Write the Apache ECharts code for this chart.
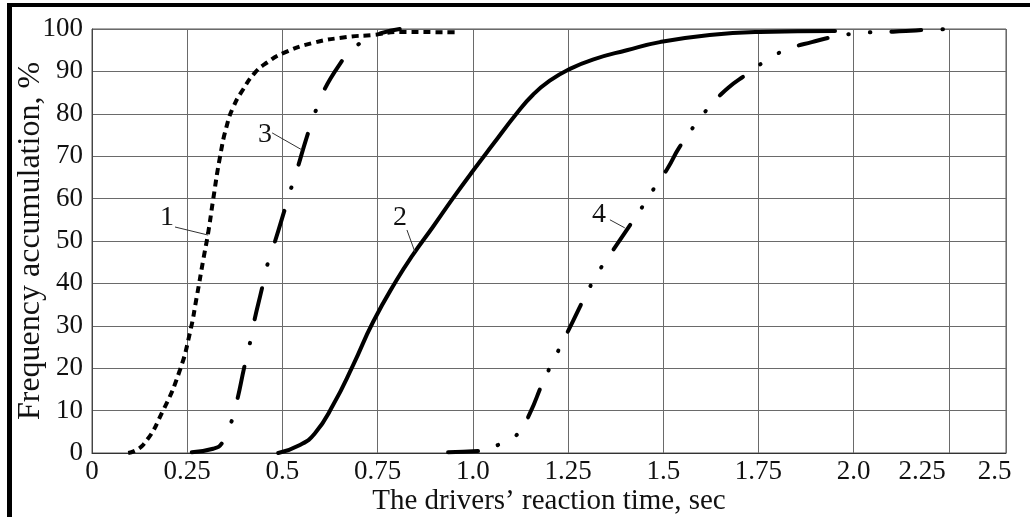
<!DOCTYPE html>
<html>
<head>
<meta charset="utf-8">
<script src="https://cdn.jsdelivr.net/npm/echarts@6/dist/echarts.min.js"></script>
<style>
  html, body { margin: 0; padding: 0; background: #fff; }
  #main { width: 1030px; height: 517px; }
</style>
</head>
<body>
<div id="main"></div>
<script>
// curves: [time, cumulative %]
var curve1 = [[0.095, 0], [0.134, 1.9], [0.187, 10.1], [0.231, 19.6], [0.257, 28.3], [0.275, 36.8],
  [0.292, 45.5], [0.305, 51.9], [0.318, 59.7], [0.336, 69.8], [0.353, 76.9], [0.371, 81.6],
  [0.397, 85.8], [0.428, 89.7], [0.46, 92.1], [0.502, 94.3], [0.58, 96.7], [0.669, 98.1],
  [0.738, 98.6], [0.808, 99.3], [0.961, 99.2]];
var curve2 = [[0.489, 0], [0.546, 1.9], [0.585, 4.6], [0.633, 11.3], [0.686, 20.8],
  [0.738, 30.9], [0.8, 40.8], [0.843, 46.8], [0.895, 53.3], [0.948, 60.1], [1.0, 66.5],
  [1.053, 72.8], [1.116, 80.2], [1.158, 84.5], [1.202, 87.8], [1.255, 90.6], [1.315, 92.8],
  [1.404, 95], [1.491, 96.9], [1.622, 98.6], [1.754, 99.3], [1.951, 99.5]];
var curve3 = [[0.262, 0.2], [0.318, 1.0], [0.341, 2.3], [0.365, 7.1], [0.38, 12], [0.4, 20.3],
  [0.413, 25.2], [0.425, 30.7], [0.446, 38.7], [0.459, 43.9], [0.476, 48.6], [0.504, 56.8],
  [0.52, 61.6], [0.538, 66.7], [0.564, 74.5], [0.583, 79.5], [0.603, 84.4], [0.649, 91.5],
  [0.686, 95.3], [0.734, 98.2], [0.808, 100]];
var curve4 = [[0.935, 0.2], [1.019, 0.5], [1.071, 2.1], [1.12, 4.7], [1.15, 9.4], [1.184, 16.7],
  [1.21, 21.5], [1.237, 26.4], [1.263, 31.1], [1.302, 38.2], [1.331, 42.9], [1.365, 47.4],
  [1.399, 51.9], [1.447, 58.3], [1.478, 62.7], [1.512, 67.2], [1.541, 71.9], [1.591, 78.3],
  [1.628, 82.3], [1.67, 86.1], [1.717, 89.2], [1.785, 93.4], [1.835, 95.5], [1.89, 96.9],
  [1.945, 98.1], [2.024, 99.1], [2.079, 99.3], [2.137, 99.5], [2.192, 99.8], [2.273, 100]];

var curveNames = ['1', '2', '3', '4'];
var xTickLabels = ['0', '0.25', '0.5', '0.75', '1.0', '1.25', '1.5', '1.75', '2.0', '2.25', '2.5'];
// where the picture puts those labels (the last two sit off their grid lines)
var xTickAt = [0, 0.25, 0.5, 0.75, 1.0, 1.25, 1.5, 1.75, 2.0, 2.18, 2.37];

var serif = '"Liberation Serif", "DejaVu Serif", serif';
var ink = '#000';

// callout: label point, then leader line from -> to
var callouts = [
  { text: [0.197, 55.4], from: [0.218, 53.3], to: [0.305, 51.4] },
  { text: [0.809, 55.6], from: [0.827, 52.6], to: [0.848, 47.4] },
  { text: [0.454, 75.2], from: [0.473, 75.5], to: [0.551, 71.5] },
  { text: [1.331, 56.1], from: [1.36, 55], to: [1.399, 53.1] }
];

var styles = [
  { type: [7, 5], cap: 'butt' },
  { type: 'solid', cap: 'round' },
  { type: [32, 24, 0.5, 24], cap: 'round' },
  { type: [30, 21, 0.5, 21, 0.5, 21], cap: 'round' }
];

var curves = [curve1, curve2, curve3, curve4];

var series = curves.map(function (d, i) {
  var c = callouts[i];
  return {
    name: curveNames[i],
    type: 'line',
    data: d,
    smooth: 0.5,
    showSymbol: false,
    lineStyle: { color: ink, width: 4, type: styles[i].type, cap: styles[i].cap },
    markLine: {
      silent: true,
      symbol: 'none',
      label: { show: false },
      lineStyle: { color: '#333', width: 1, type: 'solid' },
      data: [[{ coord: c.from }, { coord: c.to }]]
    },
    markPoint: {
      silent: true,
      symbol: 'circle',
      symbolSize: 0,
      label: {
        show: true, position: 'inside', formatter: curveNames[i],
        fontFamily: serif, fontSize: 28, color: '#111'
      },
      data: [{ coord: c.text }]
    }
  };
});

var chart = echarts.init(document.getElementById('main'));
chart.setOption({
  animation: false,
  backgroundColor: '#fff',
  grid: {
    left: 92, right: 24, top: 29, bottom: 64,
    outerBoundsMode: 'none',
    containLabel: false,
    show: true, borderColor: '#555', borderWidth: 1
  },
  xAxis: {
    type: 'value',
    min: 0, max: 2.4, interval: 0.25,
    name: 'The drivers’ reaction time, sec',
    nameLocation: 'middle', nameGap: 34, nameMoveOverlap: false,
    nameTextStyle: { fontFamily: serif, fontSize: 29, color: '#111' },
    axisLine: { lineStyle: { color: '#333', width: 1 } },
    axisTick: { show: false },
    splitLine: { show: true, lineStyle: { color: '#6a6a6a', width: 1 } },
    axisLabel: {
      customValues: xTickAt,
      margin: 5,
      fontFamily: serif, fontSize: 27, color: '#111',
      formatter: function (v) {
        var k = xTickAt.indexOf(v);
        return k >= 0 ? xTickLabels[k] : '';
      }
    }
  },
  yAxis: {
    type: 'value',
    min: 0, max: 100, interval: 10,
    name: 'Frequency accumulation, %',
    nameLocation: 'middle', nameGap: 45, nameRotate: 90, nameMoveOverlap: false,
    nameTextStyle: { fontFamily: serif, fontSize: 32, color: '#111' },
    axisLine: { show: true, lineStyle: { color: '#444', width: 1 } },
    axisTick: { show: false },
    splitLine: { show: true, lineStyle: { color: '#6a6a6a', width: 1 } },
    axisLabel: { margin: 9, fontFamily: serif, fontSize: 27, color: '#111' }
  },
  graphic: [
    { type: 'rect', shape: { x: 7, y: 3, width: 1023, height: 4 }, style: { fill: '#000' }, silent: true },
    { type: 'rect', shape: { x: 7, y: 3, width: 5, height: 514 }, style: { fill: '#000' }, silent: true }
  ],
  series: series
});
</script>
</body>
</html>
